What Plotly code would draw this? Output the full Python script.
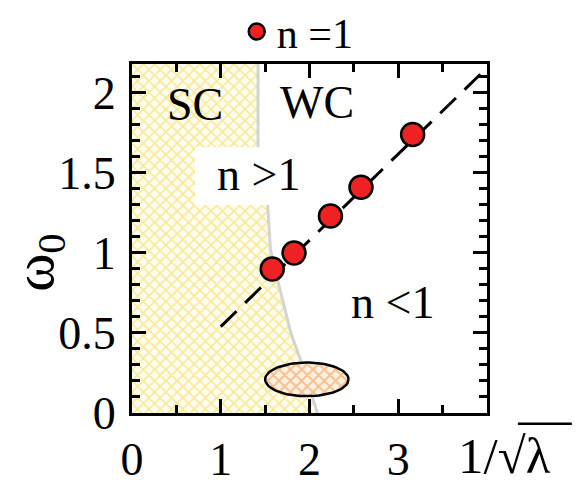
import numpy as np
import plotly.graph_objects as go

# data
x_pts = [1.58, 1.826, 2.236, 2.58, 3.162]   # 1/sqrt(lambda)
w_pts = [0.90, 1.00, 1.23, 1.41, 1.74]       # omega_0
line_x = [1.0, 3.97]
line_y = [0.54, 2.14]

# SC / WC boundary (grey curve), top to bottom
bnd_x = [1.42, 1.42, 1.53, 1.56, 1.65, 1.79, 1.90, 2.09]
bnd_y = [2.18, 1.66, 1.29, 1.02, 0.81, 0.50, 0.33, 0.0]

# small ellipse near the bottom
ell_cx, ell_cy, ell_rx, ell_ry = 1.97, 0.21, 0.47, 0.105

font = "Liberation Serif"

fig = go.Figure()

# hatched strong-coupling region
fig.add_trace(go.Scatter(
    x=[0] + bnd_x + [0], y=[bnd_y[0]] + bnd_y + [0],
    fill="toself", mode="none", showlegend=False, hoverinfo="skip",
    fillcolor="#fff6cc",
    fillpattern=dict(shape="x", fgcolor="#f2d43a", bgcolor="#fffdf2",
                     size=8, solidity=0.38)))

fig.add_trace(go.Scatter(x=bnd_x, y=bnd_y, mode="lines",
                         line=dict(color="#d4d4d4", width=3),
                         showlegend=False, hoverinfo="skip"))

t = np.linspace(0, 2 * np.pi, 80)
fig.add_trace(go.Scatter(
    x=ell_cx + ell_rx * np.cos(t), y=ell_cy + ell_ry * np.sin(t),
    fill="toself", mode="lines", line=dict(color="black", width=2.5),
    fillcolor="#fbd9b8",
    fillpattern=dict(shape="x", fgcolor="#ec8a35", bgcolor="#fff1e2",
                     size=8, solidity=0.42),
    showlegend=False, hoverinfo="skip"))

fig.add_trace(go.Scatter(x=line_x, y=line_y, mode="lines",
                         line=dict(color="black", width=3, dash="22px,12px"),
                         showlegend=False, hoverinfo="skip"))

fig.add_trace(go.Scatter(x=x_pts, y=w_pts, mode="markers", name="n =1",
                         marker=dict(size=23, color="#ee2222",
                                     line=dict(color="black", width=2.5))))

# white patch behind the "n >1" label
fig.add_shape(type="rect", xref="x", yref="y", x0=0.71, x1=1.9,
              y0=1.30, y1=1.66, fillcolor="white", line_width=0, layer="above")

txt = dict(family=font, size=46, color="black")
fig.add_annotation(x=0.71, y=1.93, text="SC", showarrow=False, font=txt)
fig.add_annotation(x=2.08, y=1.94, text="WC", showarrow=False, font=txt)
fig.add_annotation(x=1.42, y=1.49, text="n >1", showarrow=False, font=txt)
fig.add_annotation(x=2.93, y=0.69, text="n <1", showarrow=False, font=txt)

# axis titles
fig.add_annotation(xref="paper", yref="paper", x=-0.265, y=0.43,
                   xanchor="center", yanchor="middle",
                   text="ω<sub>0</sub>", textangle=-90, showarrow=False,
                   font=dict(family=font, size=58, color="black"))
fig.add_annotation(xref="paper", yref="paper", x=1.05, y=-0.122,
                   xanchor="center", yanchor="middle",
                   text="1/√λ", showarrow=False,
                   font=dict(family=font, size=51, color="black"))
# bar of the square root over lambda
fig.add_shape(type="line", xref="paper", yref="paper", x0=1.087, x1=1.239,
              y0=-0.031, y1=-0.031, line=dict(color="black", width=2.5))

axis_common = dict(showline=True, linecolor="black", linewidth=3,
                   mirror="allticks", ticks="inside", ticklen=14,
                   tickwidth=3, tickcolor="black", showgrid=False,
                   zeroline=False, ticklabelstandoff=4,
                   tickfont=dict(family=font, size=46, color="black"))

fig.update_xaxes(range=[0, 4], tickvals=[0, 1, 2, 3],
                 minor=dict(dtick=0.5, ticks="inside", ticklen=8,
                            tickwidth=2.5, tickcolor="black"),
                 **axis_common)
fig.update_yaxes(range=[0, 2.18], tickvals=[0, 0.5, 1, 1.5, 2],
                 minor=dict(dtick=0.1, ticks="inside", ticklen=8,
                            tickwidth=2.5, tickcolor="black"),
                 **axis_common)

fig.update_layout(
    width=579, height=485,
    margin=dict(l=132, r=92, t=64, b=72, autoexpand=False),
    plot_bgcolor="white", paper_bgcolor="white",
    legend=dict(x=0.295, y=0.995, xanchor="left", yanchor="bottom",
                orientation="h", font=dict(family=font, size=42, color="black"),
                bgcolor="rgba(0,0,0,0)"),
)

fig.write_html("out.html", config={"displayModeBar": False},
               post_script="document.body.style.margin='0';")
